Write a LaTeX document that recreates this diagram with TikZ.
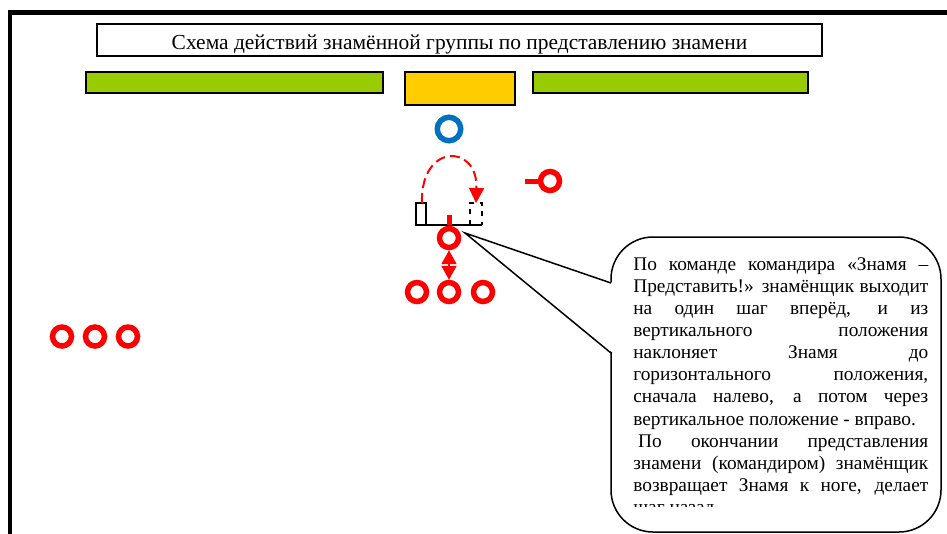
\documentclass[tikz,border=0pt]{standalone}
\usepackage{fontspec}
\setmainfont{Liberation Serif}[Ligatures=TeX]
\usetikzlibrary{arrows.meta}
\definecolor{grassgreen}{RGB}{153,204,0}
\definecolor{flagyellow}{RGB}{255,204,0}
\definecolor{chiefblue}{RGB}{0,112,192}

\begin{document}
\begin{tikzpicture}[x=0.02cm, y=-0.02cm,
  ring/.style={circle, draw=#1, line width=0.11cm, minimum size=0.38cm, inner sep=0pt},
  bar/.style={draw=black, line width=0.04cm, fill=#1},
  swing/.style={red, line width=0.04cm, dash pattern=on 0.2cm off 0.1cm, -{Triangle[length=0.3cm, width=0.3cm]}},
  dblarrow/.style={red, line width=0.04cm, {Triangle[length=0.28cm, width=0.3cm]}-{Triangle[length=0.28cm, width=0.3cm]}}]
\useasboundingbox (0,0) rectangle (947,534);
\draw[line width=0.1cm] (10,534) -- (10,12.5) -- (947,12.5);

\node[draw, line width=0.04cm, minimum width=14.5cm, minimum height=0.64cm, inner sep=0pt,
  text height=0.5cm, text depth=0.1cm, font=\fontsize{12.2}{14}\selectfont] (title) at (459.5,40)
  {Схема действий знамённой группы по представлению знамени};

\draw[bar=grassgreen] (86,72) rectangle (383,93);
\draw[bar=flagyellow] (405,72) rectangle (515,105);
\draw[bar=grassgreen] (533,72) rectangle (808,93);

\node[ring=chiefblue, minimum size=0.47cm] (chief) at (449,129) {};

% flag bracket
\draw[line width=0.03cm] (416,203) rectangle (426,225);
\draw[line width=0.03cm] (416,225) -- (482,225);
\draw[line width=0.03cm, dashed] (470,225) -- (470,203) -- (482,203) -- (482,225);
\draw[red, line width=0.1cm] (449,215) -- (449,225);
\draw[swing] (422,203) .. controls (420,143) and (478,143) .. (476,203);

% callout
\coordinate (tip) at (465,233);
\draw[line width=0.03cm, fill=white, rounded corners=0.84cm] (611,237) rectangle (941,532);
\fill[white] (tip) -- (613,283) -- (613,353) -- cycle;
\draw[line width=0.03cm] (611,283) -- (tip) -- (611,353);
\begin{scope}
\clip (615,245) rectangle (938,506);
\node[anchor=north west, inner sep=0pt, text width=5.9cm, align=justify,
  font=\fontsize{11}{12.6}\selectfont] (note) at (633,257)
  {По команде командира «Знамя –\linebreak
   Представить!» знамёнщик выходит\linebreak
   на один шаг вперёд, и из\linebreak
   вертикального положения\linebreak
   наклоняет Знамя до\linebreak
   горизонтального положения,\linebreak
   сначала налево, а потом через\linebreak
   вертикальное положение - вправо.\par
   \hspace*{0.25em}По окончании представления\linebreak
   знамени (командиром) знамёнщик\linebreak
   возвращает Знамя к ноге, делает\linebreak
   шаг назад.};
\end{scope}

\node[ring=red] (bearer) at (449,238) {};
\node[ring=red] (midL) at (417,292) {};
\node[ring=red] (midC) at (449,292) {};
\node[ring=red] (midR) at (483,292) {};
\draw[dblarrow] (bearer.south) -- (midC.north);

\node[ring=red] (flank) at (550,181) {};
\draw[red, line width=0.1cm] (flank.west) -- ++(-13,0);

\node[ring=red] (rowA) at (62,336.5) {};
\node[ring=red] (rowB) at (95,336.5) {};
\node[ring=red] (rowC) at (128,336.5) {};
\end{tikzpicture}
\end{document}
